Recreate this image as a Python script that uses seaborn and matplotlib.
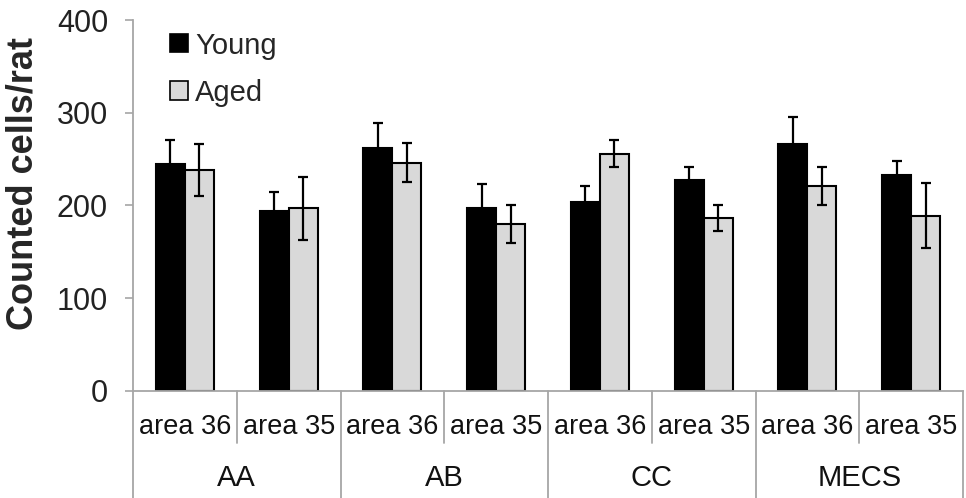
import matplotlib
matplotlib.use("Agg")
import matplotlib.pyplot as plt
import seaborn as sns
import pandas as pd

groups = ["AA", "AB", "CC", "MECS"]
areas = ["area 36", "area 35"]
young = [245, 194, 262, 197, 204, 227, 266, 233]
young_err = [26, 21, 27, 26, 17, 14, 29, 15]
aged = [238, 197, 246, 180, 256, 187, 221, 189]
aged_err = [28, 34, 21, 20, 15, 14, 21, 35]
yticks = [0, 100, 200, 300, 400]

sns.set_style("white")
plt.rcParams["font.family"] = ["Liberation Sans", "DejaVu Sans"]

cats = [f"{g}|{a}" for g in groups for a in areas]
rows = []
for c, v in zip(cats, young):
    rows.append({"cat": c, "value": v, "Age": "Young"})
for c, v in zip(cats, aged):
    rows.append({"cat": c, "value": v, "Age": "Aged"})
df = pd.DataFrame(rows)

fig = plt.figure(figsize=(9.66, 4.98), dpi=100)
ax = fig.add_axes([0.1377, 0.2149, 0.9969 - 0.1377, 0.9598 - 0.2149])

sns.barplot(data=df, x="cat", y="value", hue="Age", order=cats,
            hue_order=["Young", "Aged"],
            palette={"Young": "black", "Aged": "#d9d9d9"},
            edgecolor="black", linewidth=1.5, width=0.56, gap=0,
            errorbar=None, ax=ax)

for cont, errs in zip(ax.containers, [young_err, aged_err]):
    for bar, e in zip(cont, errs):
        x = bar.get_x() + bar.get_width() / 2
        ax.errorbar(x, bar.get_height(), yerr=e, color="black",
                    capsize=3.8, elinewidth=1.6, capthick=1.6, fmt="none")

ax.set_xlim(-0.5, len(cats) - 0.5)
ax.set_ylim(0, 400)
ax.set_yticks(yticks)
ax.tick_params(axis="y", direction="out", length=6, width=1.2,
               color="#a6a6a6", labelsize=22, labelcolor="#222222", pad=12,
               left=True)
ax.tick_params(axis="x", bottom=False, labelbottom=False)
for s in ["top", "right"]:
    ax.spines[s].set_visible(False)
for s in ["left", "bottom"]:
    ax.spines[s].set_color("#a6a6a6")
    ax.spines[s].set_linewidth(1.3)

ax.set_xlabel("")
ax.set_ylabel("Counted cells/rat", fontsize=26, fontweight="bold")
ax.yaxis.set_label_coords(-0.112, 0.56)

trans = ax.get_xaxis_transform()
for i in range(len(cats) + 1):
    xb = i - 0.5
    ybot = -0.288 if i % 2 == 0 else -0.14
    ax.plot([xb, xb], [0, ybot], transform=trans, color="#a6a6a6",
            lw=1.3, clip_on=False)
for i, c in enumerate(cats):
    ax.text(i, -0.096, c.split("|")[1], transform=trans, ha="center",
            va="center", fontsize=19.5, color="#111111")
for j, g in enumerate(groups):
    ax.text(2 * j + 0.5, -0.235, g, transform=trans, ha="center",
            va="center", fontsize=21, color="#111111")

leg = ax.legend(loc="upper left", bbox_to_anchor=(0.045, 0.969),
                frameon=False, fontsize=21, handlelength=0.6,
                handleheight=0.6, handletextpad=0.25, labelspacing=0.66,
                borderpad=0, borderaxespad=0)
for h in leg.legend_handles:
    h.set_edgecolor("black")
    h.set_linewidth(1.2)

fig.savefig("out.png", dpi=100)
